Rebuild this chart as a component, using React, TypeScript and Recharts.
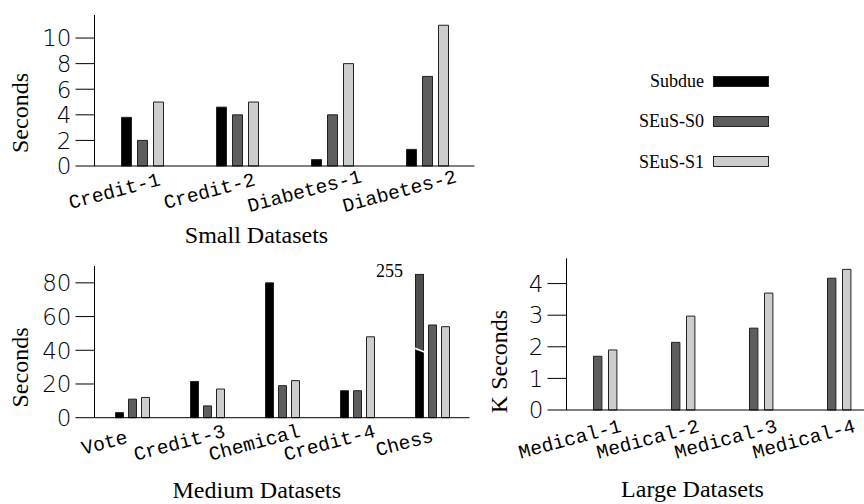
import { BarChart, Bar, XAxis, YAxis, LabelList } from "recharts";

// Small datasets (seconds)
const smallCategories = ["Credit-1", "Credit-2", "Diabetes-1", "Diabetes-2"];
const smallSubdue = [3.8, 4.6, 0.5, 1.3];
const smallS0 = [2, 4, 4, 7];
const smallS1 = [5, 5, 8, 11];

// Medium datasets (seconds); Chess/Subdue runs off the axis and is drawn broken
const mediumCategories = ["Vote", "Credit-3", "Chemical", "Credit-4", "Chess"];
const mediumSubdue = [3, 21.5, 80, 16, 255];
const mediumS0 = [11, 7, 19, 16, 55];
const mediumS1 = [12, 17, 22, 48, 54];
const MEDIUM_MAX = 90;
const BREAK_AT = 40;
const BROKEN_TOP = 85;

// Large datasets (K seconds), no Subdue runs
const largeCategories = ["Medical-1", "Medical-2", "Medical-3", "Medical-4"];
const largeS0 = [1.7, 2.14, 2.59, 4.17];
const largeS1 = [1.9, 2.97, 3.7, 4.45];

const smallTicks = [0, 2, 4, 6, 8, 10];
const mediumTicks = [0, 20, 40, 60, 80];
const largeTicks = [0, 1, 2, 3, 4];

const seriesNames = ["Subdue", "SEuS-S0", "SEuS-S1"];
const seriesColors = ["#000000", "#5e5e5e", "#cdcdcd"];
const BROKEN_COLOR = "#4d4d4d";
const OUTLINE = "#222";

const smallData = smallCategories.map((name, i) => ({
  name,
  subdue: smallSubdue[i],
  s0: smallS0[i],
  s1: smallS1[i],
}));

const mediumData = mediumCategories.map((name, i) => {
  const v = mediumSubdue[i];
  const broken = v > MEDIUM_MAX;
  return {
    name,
    subdueLow: broken ? BREAK_AT : v,
    subdueHigh: broken ? BROKEN_TOP - BREAK_AT : 0,
    subdueLabel: broken ? v : null,
    s0: mediumS0[i],
    s1: mediumS1[i],
  };
});

const largeData = largeCategories.map((name, i) => ({
  name,
  s0: largeS0[i],
  s1: largeS1[i],
}));

const SERIF = "'Liberation Serif', 'Times New Roman', serif";
const MONO = "'Liberation Mono', 'Courier New', monospace";
const SANS = "'DejaVu Sans', sans-serif";

function YTick(props: any) {
  const { x, y, payload } = props;
  return (
    <text
      x={x}
      y={y}
      dy={8.3}
      textAnchor="end"
      fontFamily={SANS}
      fontWeight={200}
      fontSize={23}
      fill="#000"
    >
      {payload.value}
    </text>
  );
}

function XTick(props: any) {
  const { x, y, payload, ox, oy } = props;
  const tx = x + ox;
  const ty = y + oy;
  return (
    <text
      x={tx}
      y={ty}
      textAnchor="middle"
      fontFamily={MONO}
      fontSize={19.5}
      fill="#000"
      transform={`rotate(-15 ${tx} ${ty})`}
    >
      {payload.value}
    </text>
  );
}

// upper piece of the broken bar, with the white slash at its foot
function BrokenBar(props: any) {
  const { x, y, width, height } = props;
  if (!height || height <= 0) return null;
  return (
    <g>
      <rect x={x} y={y} width={width} height={height} fill={BROKEN_COLOR} stroke={OUTLINE} />
      <line
        x1={x - 0.5}
        y1={y + height - 2}
        x2={x + width + 1.5}
        y2={y + height + 2}
        stroke="#fff"
        strokeWidth={1.6}
      />
    </g>
  );
}

function BreakLabel(props: any) {
  const { x, y, value } = props;
  if (value == null) return null;
  return (
    <text x={x - 12.5} y={y + 3} textAnchor="end" fontFamily={SERIF} fontSize={18} fill="#000">
      {value}
    </text>
  );
}

const axisLine = { stroke: "#000", strokeWidth: 1 };

export default function App() {
  return (
    <div
      style={{
        position: "absolute",
        left: 0,
        top: 0,
        width: 864,
        height: 504,
        overflow: "hidden",
        background: "#fff",
      }}
    >
      {/* Small datasets */}
      <div style={{ position: "absolute", left: 0, top: 0 }}>
        <BarChart
          width={480}
          height={250}
          data={smallData}
          margin={{ top: 15, right: 5.5, left: 0, bottom: 0 }}
          barSize={10}
          barGap={6}
        >
          <XAxis
            dataKey="name"
            axisLine={axisLine}
            tickLine={false}
            tickSize={0}
            tickMargin={0}
            height={84}
            interval={0}
            tick={(p: any) => <XTick {...p} ox={-26} oy={31} />}
          />
          <YAxis
            domain={[0, 11.8]}
            ticks={smallTicks}
            width={94.5}
            tickSize={19}
            tickMargin={4}
            axisLine={axisLine}
            tickLine={axisLine}
            tick={<YTick />}
          />
          <Bar dataKey="subdue" fill={seriesColors[0]} stroke={OUTLINE} isAnimationActive={false} />
          <Bar dataKey="s0" fill={seriesColors[1]} stroke={OUTLINE} isAnimationActive={false} />
          <Bar dataKey="s1" fill={seriesColors[2]} stroke={OUTLINE} isAnimationActive={false} />
        </BarChart>
      </div>

      {/* Medium datasets */}
      <div style={{ position: "absolute", left: 0, top: 250 }}>
        <BarChart
          width={480}
          height={254}
          data={mediumData}
          margin={{ top: 16, right: 10.5, left: 0, bottom: 0 }}
          barSize={8}
          barGap={5}
        >
          <XAxis
            dataKey="name"
            axisLine={axisLine}
            tickLine={false}
            tickSize={0}
            tickMargin={0}
            height={86.3}
            interval={0}
            tick={(p: any) => <XTick {...p} ox={-26} oy={31} />}
          />
          <YAxis
            domain={[0, MEDIUM_MAX]}
            ticks={mediumTicks}
            width={94.5}
            tickSize={19}
            tickMargin={4}
            axisLine={axisLine}
            tickLine={axisLine}
            tick={<YTick />}
          />
          <Bar dataKey="subdueLow" stackId="sub" fill={seriesColors[0]} stroke={OUTLINE} isAnimationActive={false} />
          <Bar dataKey="subdueHigh" stackId="sub" shape={<BrokenBar />} isAnimationActive={false}>
            <LabelList dataKey="subdueLabel" content={<BreakLabel />} />
          </Bar>
          <Bar dataKey="s0" fill={seriesColors[1]} stroke={OUTLINE} isAnimationActive={false} />
          <Bar dataKey="s1" fill={seriesColors[2]} stroke={OUTLINE} isAnimationActive={false} />
        </BarChart>
      </div>

      {/* Large datasets */}
      <div style={{ position: "absolute", left: 470, top: 250 }}>
        <BarChart
          width={410}
          height={254}
          data={largeData}
          margin={{ top: 8.3, right: 1.5, left: 0, bottom: 0 }}
          barSize={8.4}
          barGap={6.6}
        >
          <XAxis
            dataKey="name"
            axisLine={axisLine}
            tickLine={false}
            tickSize={0}
            tickMargin={0}
            height={94}
            interval={0}
            tick={(p: any) => <XTick {...p} ox={-34} oy={35} />}
          />
          <YAxis
            domain={[0, 4.8]}
            ticks={largeTicks}
            width={96.5}
            tickSize={19}
            tickMargin={4}
            axisLine={axisLine}
            tickLine={axisLine}
            tick={<YTick />}
          />
          <Bar dataKey="s0" fill={seriesColors[1]} stroke={OUTLINE} isAnimationActive={false} />
          <Bar dataKey="s1" fill={seriesColors[2]} stroke={OUTLINE} isAnimationActive={false} />
        </BarChart>
      </div>

      {/* Titles and legend */}
      <svg
        width={864}
        height={504}
        style={{ position: "absolute", left: 0, top: 0, pointerEvents: "none" }}
        fontFamily={SERIF}
      >
        <text x={28} y={113} fontSize={24} textAnchor="middle" transform="rotate(-90 28 113)">
          Seconds
        </text>
        <text x={28} y={367.5} fontSize={24} textAnchor="middle" transform="rotate(-90 28 367.5)">
          Seconds
        </text>
        <text x={506.5} y={361.5} fontSize={24} textAnchor="middle" transform="rotate(-90 506.5 361.5)">
          K Seconds
        </text>
        <text x={256.5} y={243} fontSize={24} textAnchor="middle">
          Small Datasets
        </text>
        <text x={256.8} y={498} fontSize={24} textAnchor="middle">
          Medium Datasets
        </text>
        <text x={692.5} y={497} fontSize={24} textAnchor="middle">
          Large Datasets
        </text>

        {seriesNames.map((name, i) => (
          <g key={name}>
            <text x={704} y={87 + i * 40.3} fontSize={18} textAnchor="end">
              {name}
            </text>
            <rect
              x={713.5}
              y={76.5 + i * 40}
              width={55}
              height={10}
              fill={seriesColors[i]}
              stroke={OUTLINE}
            />
          </g>
        ))}
      </svg>
    </div>
  );
}
